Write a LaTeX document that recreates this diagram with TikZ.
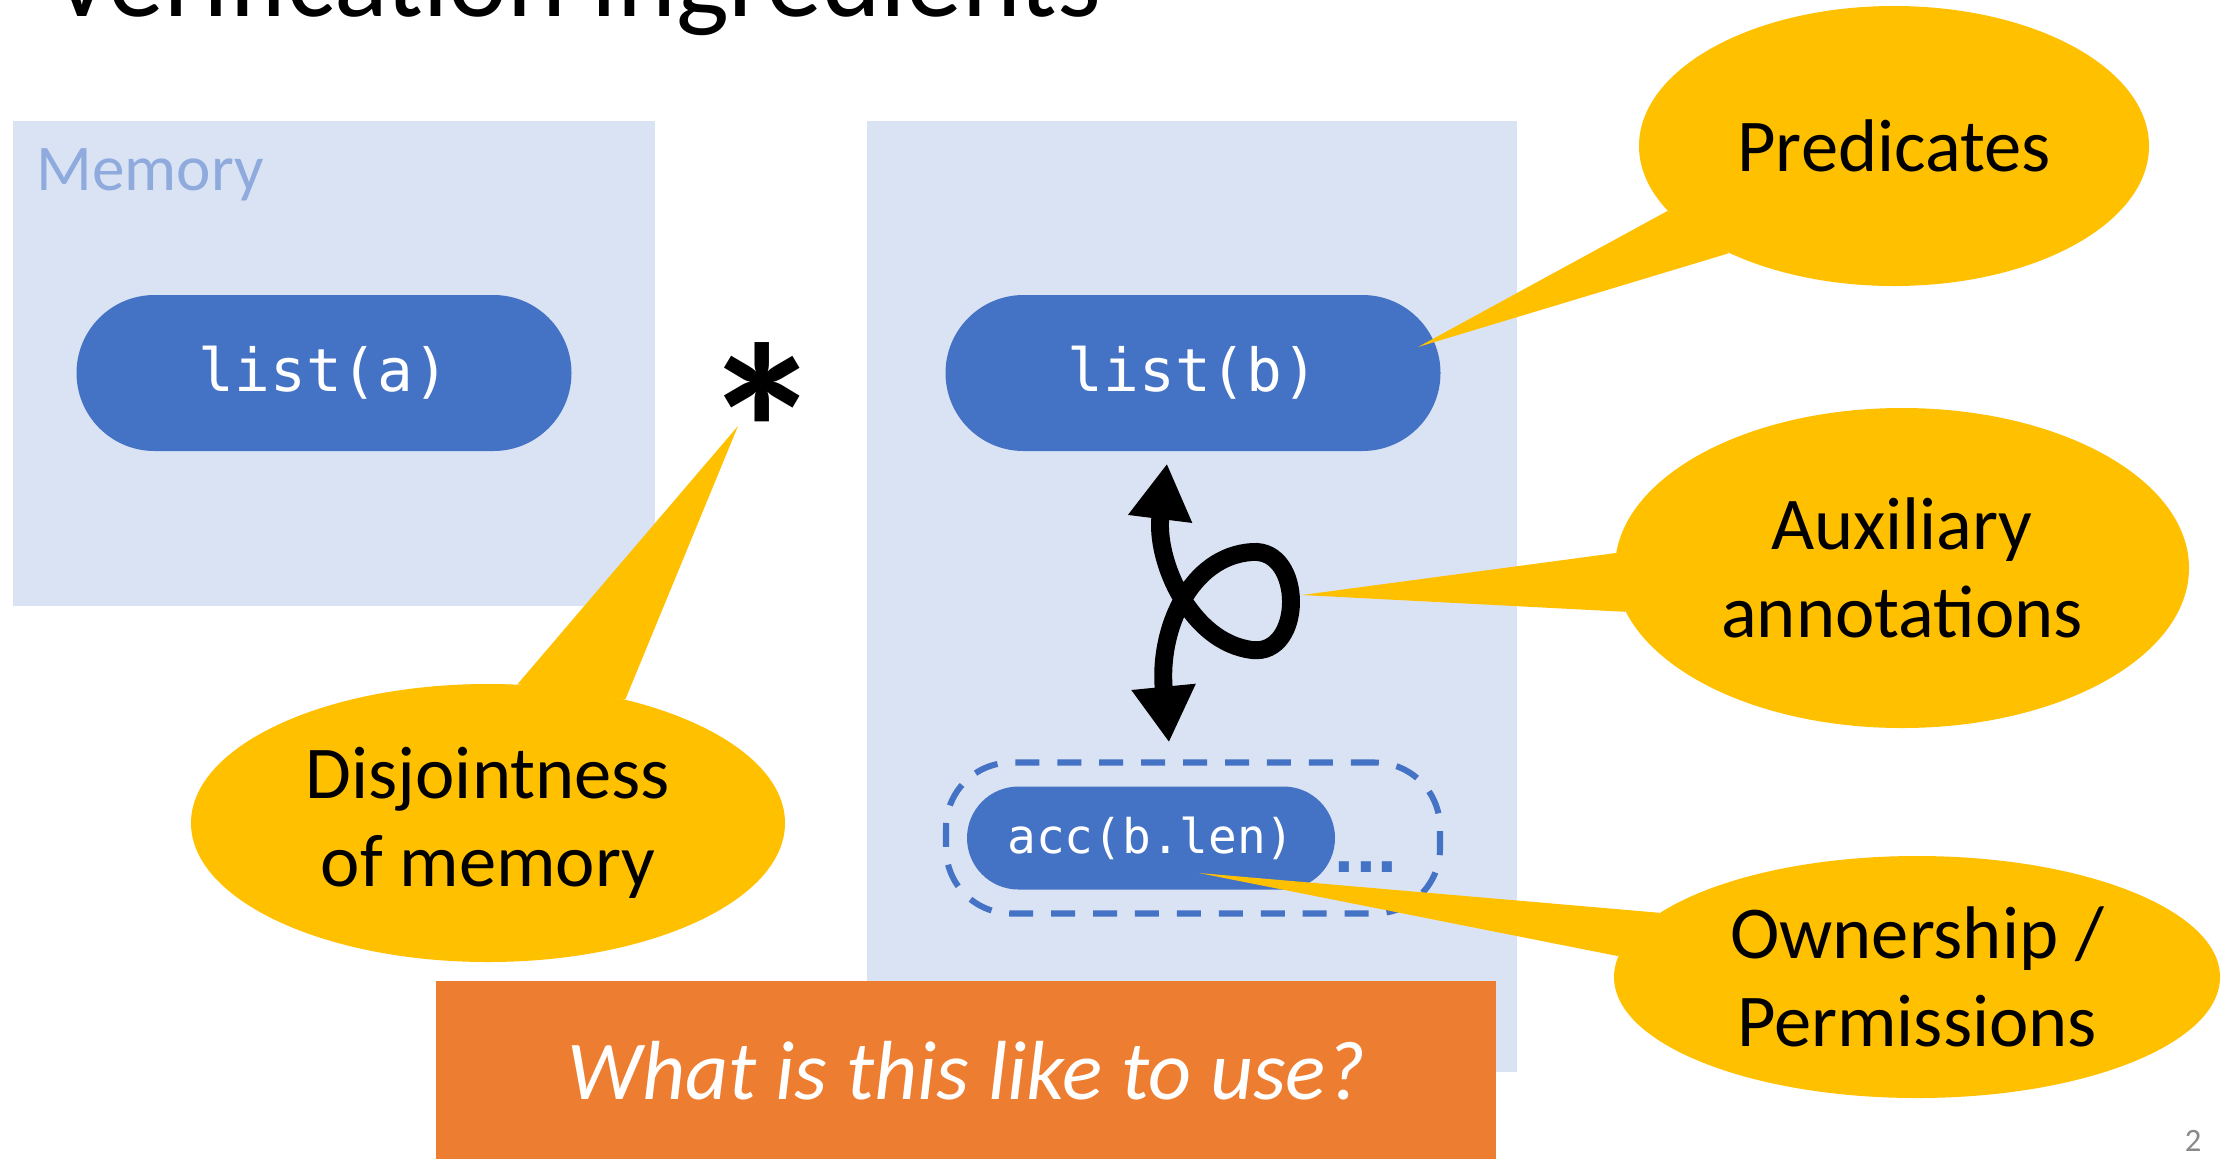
\documentclass[tikz,border=0pt]{standalone}
\usepackage{fontspec}
\setmainfont{Carlito}
\newfontfamily\codefont{DejaVu Sans Mono}
\newfontfamily\dotfont{DejaVu Sans}
\usetikzlibrary{shapes.geometric,arrows.meta}

\definecolor{panel}{HTML}{DAE3F3}
\definecolor{pillblue}{HTML}{4472C4}
\definecolor{memtext}{HTML}{8FAADC}
\definecolor{calloutyellow}{HTML}{FFC000}
\definecolor{banner}{HTML}{ED7D31}
\definecolor{pagegray}{HTML}{898989}

% one unit = one pixel of a 2236 x 1159 canvas
\def\pxunit{0.4293pt}

\begin{document}
\begin{tikzpicture}[x=0.4293pt,y=-0.4293pt,
  panelbox/.style={rectangle, fill=panel, draw=none, inner sep=0, anchor=north west},
  pill/.style={rectangle, fill=pillblue, text=white, inner sep=0,
    font=\codefont\fontsize{25.5}{30}\selectfont},
  bubble/.style={ellipse, fill=calloutyellow, inner sep=0, align=center,
    font=\fontsize{32}{37.5}\selectfont},
  pointer/.style={fill=calloutyellow},
  looparrow/.style={line width=7.7pt,
    {Triangle[length=24pt,width=26pt]}-{Triangle[length=24pt,width=26pt]}}]

\useasboundingbox (0,0) rectangle (2236,1159);
\clip (0,0) rectangle (2236,1159);
\fill[white] (0,0) rectangle (2236,1159);

% memory panels
\node[panelbox, minimum width=642*\pxunit, minimum height=485*\pxunit] (memA) at (13,121) {};
\node[panelbox, minimum width=650*\pxunit, minimum height=951*\pxunit] (memB) at (867,121) {};

% slide title (runs off the top edge)
\node[anchor=base west, inner sep=0, font=\fontsize{48}{58}\selectfont] (title) at (50,16) {Verification ingredients};

\node[anchor=base west, inner sep=0, text=memtext, font=\fontsize{28}{34}\selectfont] (memlabel) at (36,190) {Memory};

% predicates
\node[pill, minimum width=495*\pxunit, minimum height=156*\pxunit, rounded corners=33.5pt] (lista) at (324,373) {list(a)};
\node[pill, minimum width=495*\pxunit, minimum height=156*\pxunit, rounded corners=33.5pt] (listb) at (1193,373) {list(b)};

% permission group
\node[draw=pillblue, line width=2.6pt, dash pattern=on 10.3pt off 7.7pt,
  rectangle, rounded corners=28pt, minimum width=494*\pxunit, minimum height=151*\pxunit, inner sep=0] (group) at (1193,838) {};
\node[pill, font=\codefont\fontsize{20.5}{24}\selectfont, minimum width=368*\pxunit,
  minimum height=103*\pxunit, rounded corners=22.1pt] (acc) at (1151,838) {acc(b.len)};
\node[anchor=base west, inner sep=0, text=pillblue, font=\dotfont\bfseries\fontsize{24.5}{29}\selectfont] (dots) at (1333,872) {...};

% separating conjunction
\node[anchor=north, inner sep=0, font=\bfseries\fontsize{105}{120}\selectfont] (star) at (762,342) {*};

% loop between list(b) and the permission group
\coordinate (looptop) at ([shift={(-26,12)}]listb.south);
\coordinate (loopbot) at ([shift={(-24,-17)}]group.north);
\draw[looparrow] (looptop) .. controls (1155,560) and (1190,642) .. (1252,650)
  .. controls (1304,656) and (1304,548) .. (1252,552)
  .. controls (1190,556) and (1158,630) .. (loopbot);

% banner
\node[rectangle, fill=banner, anchor=north west, minimum width=1060*\pxunit, minimum height=178*\pxunit,
  inner sep=0, text=white, font=\itshape\fontsize{36}{43}\selectfont] (banner) at (436,981) {What is this like to use?};

% callouts
\node[bubble, minimum width=510*\pxunit, minimum height=280*\pxunit] (pred) at (1894,146) {Predicates};
\coordinate (predtip) at (1418,347);
\fill[pointer] (pred.196) -- (predtip) -- (pred.213) -- cycle;

\node[bubble, minimum width=574*\pxunit, minimum height=320*\pxunit] (aux) at (1902,568) {Auxiliary\\annotations};
\coordinate (auxtip) at (1302,595);
\fill[pointer] (aux.177) -- (auxtip) -- (aux.189) -- cycle;

\node[bubble, minimum width=606*\pxunit, minimum height=242*\pxunit] (own) at (1917,977) {Ownership /\\Permissions};
\coordinate (owntip) at (1199,873);
\fill[pointer] (own.166) -- (owntip) -- (own.176) -- cycle;

\node[bubble, minimum width=594*\pxunit, minimum height=278*\pxunit] (disj) at (488,823) {Disjointness\\of memory};
\coordinate (disjtip) at (738,426);
\fill[pointer] (disj.78) -- (disjtip) -- (disj.42) -- cycle;

% slide number
\node[anchor=base, inner sep=0, text=pagegray, font=\fontsize{14}{17}\selectfont] (pageno) at (2193,1151) {2};
\end{tikzpicture}
\end{document}
